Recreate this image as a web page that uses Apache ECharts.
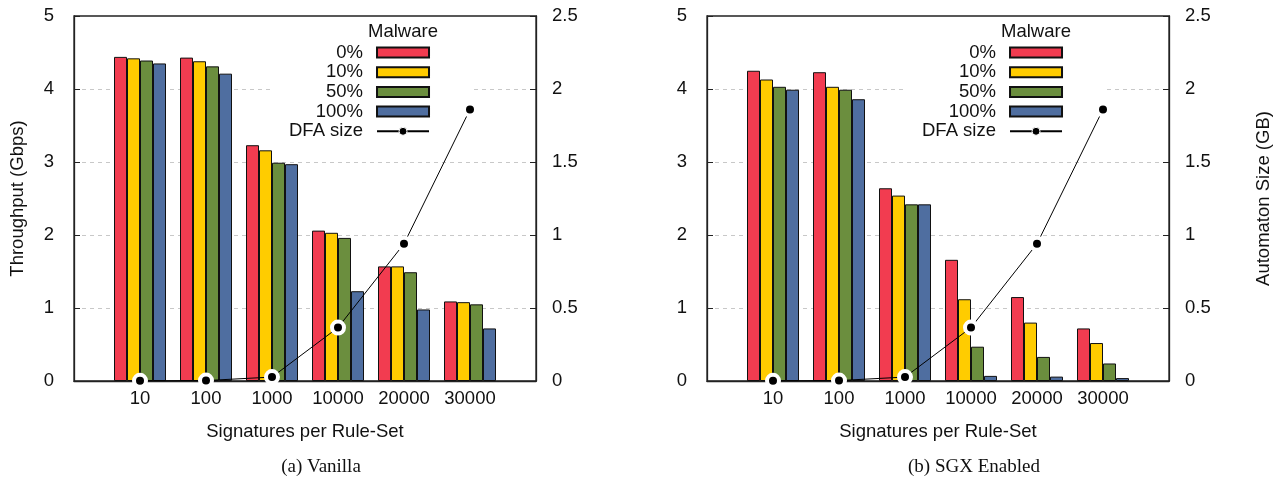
<!DOCTYPE html>
<html>
  <head>
    <title></title>
    <meta charset="UTF-8" />
    <script src="https://cdn.jsdelivr.net/npm/echarts@6/dist/echarts.min.js"></script>
    <style>
      body { margin: 0; background: #fff; }
    </style>
  </head>
  <body>
    <div id="main"></div>
    <script>
      const categories = ['10', '100', '1000', '10000', '20000', '30000'];
      const malwareNames = ['0%', '10%', '50%', '100%'];
      const dfaName = 'DFA size';

      // throughput (Gbps), one array per malware share
      const vanilla0 = [4.44, 4.43, 3.23, 2.06, 1.57, 1.09];
      const vanilla10 = [4.42, 4.38, 3.16, 2.03, 1.57, 1.08];
      const vanilla50 = [4.39, 4.31, 2.99, 1.96, 1.49, 1.05];
      const vanilla100 = [4.35, 4.21, 2.97, 1.23, 0.98, 0.72];

      const sgx0 = [4.25, 4.23, 2.64, 1.66, 1.15, 0.72];
      const sgx10 = [4.13, 4.03, 2.54, 1.12, 0.8, 0.52];
      const sgx50 = [4.03, 3.99, 2.42, 0.47, 0.33, 0.24];
      const sgx100 = [3.99, 3.86, 2.42, 0.07, 0.06, 0.04];

      // automaton size (GB)
      const dfaSize = [0.001, 0.003, 0.027, 0.366, 0.94, 1.86];

      const yLeftTicks = { min: 0, max: 5, interval: 1 };
      const yRightTicks = { min: 0, max: 2.5, interval: 0.5 };

      const width = 1278;
      const height = 481;
      const main = document.getElementById('main');
      main.style.width = `${width}px`;
      main.style.height = `${height}px`;

      const font = 'Liberation Sans';
      const fs = 18.5;
      const ink = '#111';
      const frame = '#222';
      const colors = ['#f23c50', '#ffcc00', '#6b8e3e', '#4f6ea0'];

      const panels = [
        { caption: '(a) Vanilla', values: [vanilla0, vanilla10, vanilla50, vanilla100], left: 74, captionX: 321 },
        { caption: '(b) SGX Enabled', values: [sgx0, sgx10, sgx50, sgx100], left: 707, captionX: 974 },
      ];

      // empty slot on each side, like the gnuplot x range
      const paddedCats = ['', ...categories, ''];
      const pad = (arr) => ['-', ...arr, '-'];

      const grid = [];
      const xAxis = [];
      const yAxis = [];
      const series = [];
      const legend = [];
      const graphic = [];

      panels.forEach((panel, p) => {
        grid.push({
          left: panel.left,
          top: 16,
          width: 462,
          height: 365,
          show: true,
          borderColor: frame,
          borderWidth: 1.3,
        });
        xAxis.push({
          type: 'category',
          gridIndex: p,
          data: paddedCats,
          boundaryGap: false,
          axisLine: { lineStyle: { color: frame, width: 1.3 } },
          axisTick: { show: false },
          axisLabel: { interval: 0, margin: 8, color: ink, fontSize: fs, fontFamily: font },
          splitLine: { show: false },
          name: 'Signatures per Rule-Set',
          nameLocation: 'middle',
          nameGap: 41,
          nameTextStyle: { color: ink, fontSize: fs, fontFamily: font },
        });
        yAxis.push({
          type: 'value',
          gridIndex: p,
          position: 'left',
          ...yLeftTicks,
          axisLine: { show: true, lineStyle: { color: frame, width: 1.3 } },
          axisTick: { show: true, inside: true, length: 6, lineStyle: { color: frame } },
          axisLabel: { margin: 20, color: ink, fontSize: fs, fontFamily: font },
          splitLine: {
            show: true,
            showMinLine: false,
            showMaxLine: false,
            lineStyle: { color: '#c8c8c8', type: [4, 4], width: 1 },
          },
          name: p === 0 ? 'Throughput (Gbps)' : '',
          nameLocation: 'middle',
          nameGap: 47,
          nameRotate: 90,
          nameTextStyle: { color: ink, fontSize: fs, fontFamily: font },
        });
        yAxis.push({
          type: 'value',
          gridIndex: p,
          position: 'right',
          ...yRightTicks,
          axisLine: { show: true, lineStyle: { color: frame, width: 1.3 } },
          axisTick: { show: true, inside: true, length: 6, lineStyle: { color: frame } },
          axisLabel: { margin: 16, color: ink, fontSize: fs, fontFamily: font },
          splitLine: { show: false },
          name: p === 1 ? 'Automaton Size (GB)' : '',
          nameLocation: 'middle',
          nameGap: 85,
          nameRotate: 90,
          nameTextStyle: { color: ink, fontSize: fs, fontFamily: font },
        });

        panel.values.forEach((vals, s) => {
          series.push({
            type: 'bar',
            name: malwareNames[s],
            xAxisIndex: p,
            yAxisIndex: 2 * p,
            data: pad(vals),
            barWidth: 13,
            barGap: '0%',
            itemStyle: { color: colors[s], borderColor: '#111', borderWidth: 1 },
          });
        });
        series.push({
          type: 'line',
          name: dfaName,
          xAxisIndex: p,
          yAxisIndex: 2 * p + 1,
          data: pad(dfaSize),
          symbol: 'circle',
          symbolSize: 12,
          lineStyle: { color: '#000', width: 1 },
          itemStyle: { color: '#000', borderColor: '#fff', borderWidth: 4 },
          z: 3,
        });

        const shift = panel.left - 74;
        legend.push({
          orient: 'vertical',
          align: 'right',
          left: 270 + shift,
          top: 20,
          padding: [23, 42, 6, 19],
          backgroundColor: '#fff',
          z: 1,
          itemWidth: 52,
          itemHeight: 10,
          itemGap: 0.7,
          selectedMode: false,
          textStyle: { color: ink, fontSize: fs, fontFamily: font, lineHeight: 17.7, padding: [0, 9, 0, 0] },
          data: [
            ...malwareNames.map((n) => ({ name: n, icon: 'rect' })),
            { name: dfaName, itemStyle: { borderWidth: 1 } },
          ],
        });
        graphic.push({
          type: 'text',
          x: 403 + shift,
          y: 32,
          z: 10,
          style: { text: 'Malware', fill: ink, font: `${fs}px "${font}"`, align: 'center', verticalAlign: 'middle' },
        });
        graphic.push({
          type: 'text',
          x: panel.captionX,
          y: 467,
          style: { text: panel.caption, fill: ink, font: '19px "Liberation Serif"', align: 'center', verticalAlign: 'middle' },
        });
      });

      const myChart = echarts.init(main, null, { renderer: 'canvas' });
      myChart.setOption({
        animation: false,
        backgroundColor: '#fff',
        grid,
        xAxis,
        yAxis,
        legend,
        graphic,
        series,
      });
    </script>
  </body>
</html>
